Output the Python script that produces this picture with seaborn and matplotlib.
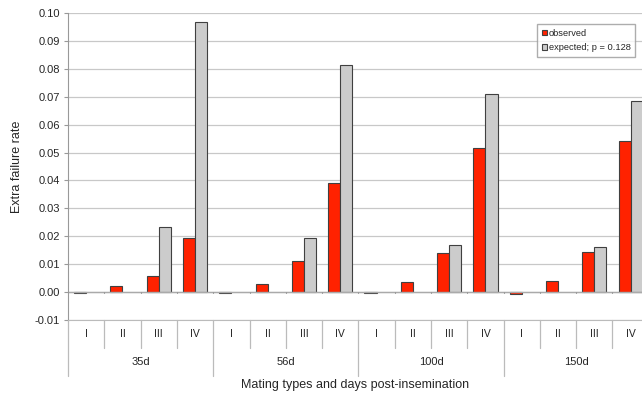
import numpy as np
import pandas as pd
import matplotlib.pyplot as plt
import seaborn as sns

days = ["35d", "56d", "100d", "150d"]
types = ["I", "II", "III", "IV"]
observed = [-0.0003, 0.0021, 0.0059, 0.0193,
            -0.0004, 0.0030, 0.0110, 0.0391,
            -0.0005, 0.0037, 0.0141, 0.0515,
            -0.0006, 0.0040, 0.0145, 0.0540]
expected = [np.nan, np.nan, 0.0232, 0.0966,
            np.nan, np.nan, 0.0195, 0.0812,
            np.nan, np.nan, 0.0168, 0.0708,
            np.nan, np.nan, 0.0163, 0.0685]
series = ["observed", "expected; p = 0.128"]

cats = [f"{d} {t}" for d in days for t in types]
df = pd.concat([
    pd.DataFrame({"cat": cats, "series": series[0], "value": observed}),
    pd.DataFrame({"cat": cats, "series": series[1], "value": expected}),
]).dropna()

sns.set_style("white")
plt.rcParams["font.family"] = ["Liberation Sans", "DejaVu Sans"]

fig = plt.figure(figsize=(6.42, 3.98), dpi=100)
ax = fig.add_axes([68 / 642, 1 - 320 / 398, 580.8 / 642, 307 / 398])

sns.barplot(data=df, x="cat", y="value", hue="series", order=cats, hue_order=series,
            palette=["#ff2200", "#cccccc"], width=0.667, edgecolor="#404040",
            linewidth=0.8, saturation=1, ax=ax)

ax.set_ylim(-0.01, 0.10)
ax.set_xlim(-0.5, 15.5)
ax.set_yticks(np.arange(-0.01, 0.1001, 0.01))
ax.set_yticklabels([f"{v:.2f}" for v in np.arange(-0.01, 0.1001, 0.01)], fontsize=8)
ax.yaxis.grid(True, color="#c8c8c8", lw=0.9)
ax.set_axisbelow(True)
ax.tick_params(axis="y", length=3, color="#999999", pad=3, left=True)
for s in ["top", "right"]:
    ax.spines[s].set_visible(False)
ax.spines["left"].set_color("#999999")
ax.spines["bottom"].set_color("#bbbbbb")

# zero line with tick marks at category boundaries
ax.axhline(0, color="#aaaaaa", lw=1, zorder=1)
for b in np.arange(0.5, 15, 1):
    ax.plot([b, b], [0, -0.0004], color="#999999", lw=0.8, clip_on=False, zorder=1)
ax.set_xticks([])
ax.set_xlabel("")
ax.set_ylabel("Extra failure rate", fontsize=9, labelpad=8)

# category table below the plot
trans = ax.get_xaxis_transform()
row1 = -28 / 307
row2 = -56 / 307
for i, c in enumerate(cats):
    t = c.split()[1]
    ax.text(i, row1 / 2, t, transform=trans, ha="center", va="center", fontsize=7.5, color="#222222")
for j, d in enumerate(days):
    ax.text(j * 4 + 1.5, (row1 + row2) / 2, d, transform=trans, ha="center", va="center", fontsize=8)
for b in np.arange(-0.5, 16, 1):
    bottom = row2 if (b + 0.5) % 4 == 0 else row1
    ax.plot([b, b], [0, bottom], transform=trans, color="#bbbbbb", lw=0.9, clip_on=False)

fig.text(355 / 642, 1 - 385 / 398, "Mating types and days post-insemination",
         ha="center", va="center", fontsize=9)

handles, labels = ax.get_legend_handles_labels()
ax.legend(handles, labels, loc="upper left", bbox_to_anchor=(537 / 642, 1 - 24 / 398),
          bbox_transform=fig.transFigure, fontsize=6.7, frameon=True, fancybox=False,
          edgecolor="#999999", handlelength=0.55, handleheight=0.55, handletextpad=0.2,
          borderpad=0.5, labelspacing=0.6, borderaxespad=0)

fig.savefig("out.png", dpi=100)
